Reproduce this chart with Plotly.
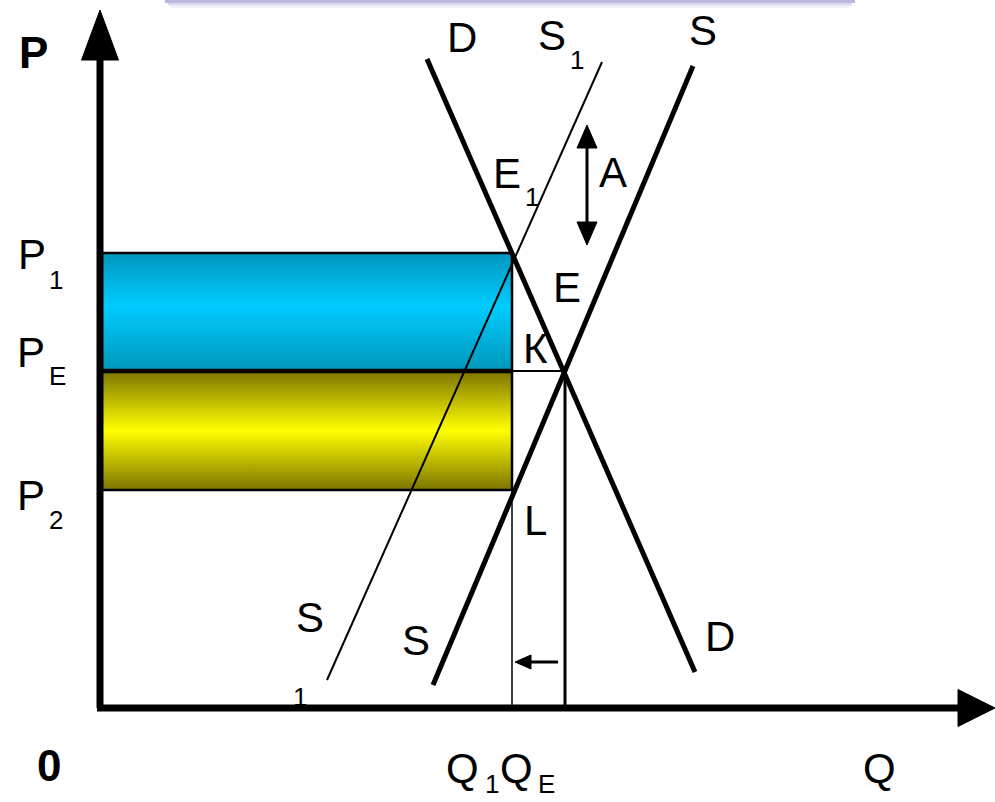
import plotly.graph_objects as go

# ── Data (chart units, origin at the axes corner) ────────────────────────────
P1, PE, P2 = 455, 337, 218          # prices
Q1, QE = 412, 465                   # quantities

demand_q = [327, 595]
demand_p = [649, 36]
supply_q = [333, 593]
supply_p = [23, 642]
supply1_q = [227, 502]
supply1_p = [28, 646]

Q_TIP, P_TIP = 895, 698             # axis arrow tips

FONT = "Liberation Sans, Arial, sans-serif"


def arrow_head(tip_x, tip_y, dx, dy, length, half):
    """Filled triangle: tip plus a base `length` back along (dx, dy)."""
    bx, by = tip_x - dx * length, tip_y - dy * length
    px, py = -dy * half, dx * half
    return [tip_x, bx + px, bx - px, tip_x], [tip_y, by + py, by - py, tip_y]


def line(fig, x, y, width, color="black"):
    fig.add_trace(go.Scatter(x=x, y=y, mode="lines",
                             line=dict(color=color, width=width),
                             hoverinfo="skip"))


def tri(fig, xs, ys):
    fig.add_trace(go.Scatter(x=xs, y=ys, mode="lines", fill="toself",
                             fillcolor="black", line=dict(color="black", width=1),
                             hoverinfo="skip"))


fig = go.Figure()

# ── Shaded areas ──────────────────────────────────────────────────────────────
fig.add_trace(go.Scatter(
    x=[0, Q1, Q1, 0, 0], y=[PE, PE, P1, P1, PE],
    mode="lines", fill="toself",
    fillgradient=dict(type="vertical",
                      colorscale=[[0, "#0096b8"], [0.55, "#00ccff"], [1, "#0096bc"]]),
    line=dict(color="black", width=2.5), hoverinfo="skip",
))
fig.add_trace(go.Scatter(
    x=[0, Q1, Q1, 0, 0], y=[P2, P2, PE, PE, P2],
    mode="lines", fill="toself",
    fillgradient=dict(type="vertical",
                      colorscale=[[0, "#7c7400"], [0.5, "#ffff00"], [1, "#7c7400"]]),
    line=dict(color="black", width=2.5), hoverinfo="skip",
))
line(fig, [0, Q1], [PE, PE], 4.5)
line(fig, [Q1, QE], [PE, PE], 2)

# ── Guide lines ───────────────────────────────────────────────────────────────
line(fig, [Q1, Q1], [0, P1], 1.5)
line(fig, [QE, QE], [0, PE], 3)

# ── Curves ────────────────────────────────────────────────────────────────────
line(fig, supply1_q, supply1_p, 2)
line(fig, demand_q, demand_p, 5)
line(fig, supply_q, supply_p, 5)

# ── Axes ──────────────────────────────────────────────────────────────────────
line(fig, [0, 0], [0, P_TIP - 40], 7)
line(fig, [-3, Q_TIP - 30], [0, 0], 7)
tri(fig, *arrow_head(0, P_TIP, 0, 1, 50, 18.5))
tri(fig, *arrow_head(Q_TIP, 0, 1, 0, 37, 18.5))

# ── Arrow A (double) and the small shift arrow ───────────────────────────────
A_X, A_TOP, A_BOT = 487, 583, 463
line(fig, [A_X, A_X], [A_TOP - 15, A_BOT + 15], 3)
tri(fig, *arrow_head(A_X, A_TOP, 0, 1, 23, 10))
tri(fig, *arrow_head(A_X, A_BOT, 0, -1, 23, 10))

SH_Y, SH_FROM, SH_TO = 46, 458, 415
line(fig, [SH_FROM, SH_TO + 10], [SH_Y, SH_Y], 3)
tri(fig, *arrow_head(SH_TO, SH_Y, -1, 0, 16, 7))

# ── Labels ────────────────────────────────────────────────────────────────────
BIG, SUB = 42, 26
labels = [
    ("<b>P</b>", -67, 656, 44), ("<b>0</b>", -51, -57, 44), ("Q", 779, -60, BIG),
    ("P", -68, 454, BIG), ("1", -44, 428, SUB),
    ("P", -69, 356, BIG), ("E", -43, 332, SUB),
    ("P", -69, 213, BIG), ("2", -44, 188, SUB),
    ("D", 362, 671, BIG),
    ("S", 452, 673, BIG), ("1", 477, 648, SUB),
    ("S", 603, 678, BIG),
    ("E", 407, 535, BIG), ("1", 432, 511, SUB),
    ("A", 513, 536, BIG),
    ("E", 467, 421, BIG),
    ("К", 435, 360, BIG),
    ("L", 435, 188, BIG),
    ("S", 210, 91, BIG), ("1", 200, 11, SUB),
    ("S", 316, 68, BIG),
    ("D", 620, 72, BIG),
    ("Q", 362, -60, BIG), ("1", 392, -76, SUB),
    ("Q", 416, -60, BIG), ("E", 446, -76, SUB),
]
for text, x, y, size in labels:
    fig.add_annotation(x=x, y=y, text=text, showarrow=False,
                       xanchor="center", yanchor="middle",
                       font=dict(family=FONT, size=size, color="black"))

# ── Lavender banner shadow at the very top ───────────────────────────────────
for y0, y1, inset, color in [
    (705, 712, 0, "rgba(160,160,212,0.75)"),
    (702.5, 705, 3, "rgba(188,188,228,0.55)"),
    (700, 702.5, 6, "rgba(218,218,242,0.45)"),
]:
    fig.add_shape(type="rect", x0=65 + inset, x1=755 - inset, y0=y0, y1=y1,
                  fillcolor=color, line=dict(width=0), layer="below")

fig.update_layout(
    width=995, height=802,
    margin=dict(l=0, r=0, t=0, b=0),
    paper_bgcolor="white", plot_bgcolor="white",
    showlegend=False,
    xaxis=dict(range=[-100, 895], visible=False, fixedrange=True),
    yaxis=dict(range=[-94, 708], visible=False, fixedrange=True),
)

fig.write_html("out.html", config={"displayModeBar": False},
               post_script="document.body.style.margin = '0';")
